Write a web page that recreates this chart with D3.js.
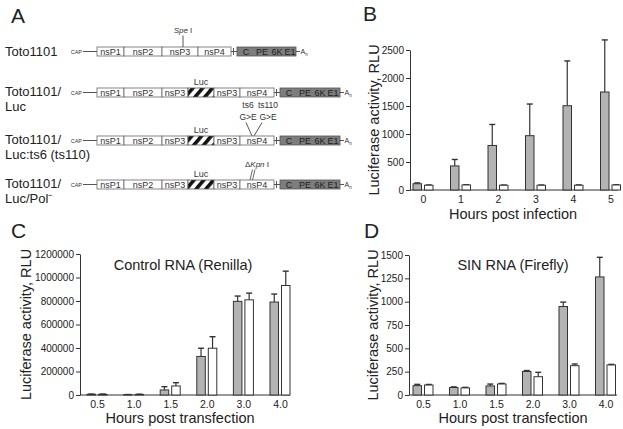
<!DOCTYPE html>
<html><head><meta charset="utf-8">
<script src="https://cdn.jsdelivr.net/npm/d3@7"></script>
<style>
html,body{margin:0;padding:0;background:#fff;}
svg{display:block;font-family:"Liberation Sans",Arial,Helvetica,sans-serif;}
</style></head>
<body><svg id="fig" width="623" height="429"></svg>
<script>
// ---------------- DATA ----------------
const hoursInfection = ["0","1","2","3","4","5"];
const bGray = [112, 430, 795, 970, 1505, 1750];
const bGrayErr = [15, 115, 375, 565, 800, 930];
const bWhite = [85, 90, 85, 85, 85, 90];
const bWhiteErr = [5, 4, 4, 4, 6, 4];
const bTicks = [0, 500, 1000, 1500, 2000, 2500];

const hoursTransfection = ["0.5","1.0","1.5","2.0","3.0","4.0"];
const cGray = [6000, 3000, 43000, 328000, 797000, 791000];
const cGrayErr = [2000, 1000, 28000, 70000, 45000, 68000];
const cWhite = [6000, 5000, 77000, 398000, 810000, 932000];
const cWhiteErr = [2000, 2000, 28000, 98000, 57000, 122000];
const cTicks = [0, 200000, 400000, 600000, 800000, 1000000, 1200000];

const dGray = [100, 80, 97, 252, 948, 1265];
const dGrayErr = [14, 7, 20, 10, 47, 210];
const dWhite = [107, 76, 118, 196, 314, 322];
const dWhiteErr = [6, 6, 6, 47, 18, 6];
const dTicks = [0, 250, 500, 750, 1000, 1250, 1500];

const constructNames = [["Toto1101"], ["Toto1101/", "Luc"], ["Toto1101/", "Luc:ts6 (ts110)"], ["Toto1101/", "Luc/Pol\u207B"]];
const nsLabelsWT = ["nsP1", "nsP2", "nsP3", "nsP4"];
const nsLabelsLuc = ["nsP1", "nsP2", "nsP3", "Luc", "nsP3", "nsP4"];
const structLabels = ["C", "PE", "6K", "E1"];

// ---------------- DRAW ----------------
const svg = d3.select("#fig");
const defs = svg.append("defs");
const pat = defs.append("pattern").attr("id", "hatch").attr("patternUnits", "userSpaceOnUse")
  .attr("width", 7.5).attr("height", 7.5).attr("patternTransform", "rotate(40)");
pat.append("rect").attr("width", 7.5).attr("height", 7.5).attr("fill", "#fff");
pat.append("rect").attr("width", 3.6).attr("height", 7.5).attr("fill", "#111");

const INK = "#333";
const GRAYFILL = "#b3b3b3";

// panel letters
[["A", 11, 23], ["B", 363, 21], ["C", 11, 238], ["D", 364, 238]].forEach(([t, x, y]) =>
  svg.append("text").attr("x", x).attr("y", y).attr("font-size", 21).attr("fill", "#222").text(t));

// ---------- Panel A ----------
const rowTop = [47, 88, 136, 180];
const boxH = 9;
const wtEdges = [97, 124, 162, 198, 231];
const lucEdges = [97, 124, 162, 188, 214, 240, 274];
const gA = svg.append("g");

constructNames.forEach((lines, i) => {
  const t = gA.append("text").attr("x", 5).attr("font-size", 13).attr("fill", "#222");
  const baseY = i === 0 ? rowTop[i] + 9 : rowTop[i] + 8;
  lines.forEach((l, j) => t.append("tspan").attr("x", 5).attr("y", baseY + j * 14.5).text(l));
});

rowTop.forEach((top, i) => {
  const mid = top + boxH / 2;
  const edges = i === 0 ? wtEdges : lucEdges;
  const labels = i === 0 ? nsLabelsWT : nsLabelsLuc;
  const grayX0 = i === 0 ? 237 : 280, grayX1 = i === 0 ? 296 : 340;
  gA.append("text").attr("x", 82).attr("y", mid + 2).attr("text-anchor", "end").attr("font-size", 5.5).attr("fill", "#333").text("CAP");
  gA.append("line").attr("x1", 83).attr("x2", edges[0]).attr("y1", mid).attr("y2", mid).attr("stroke", "#444").attr("stroke-width", 0.9);
  labels.forEach((lab, k) => {
    const x0 = edges[k], x1 = edges[k + 1];
    if (lab === "Luc") {
      gA.append("rect").attr("x", x0).attr("y", top).attr("width", x1 - x0).attr("height", boxH)
        .attr("fill", "url(#hatch)").attr("stroke", "#555").attr("stroke-width", 0.8);
      gA.append("text").attr("x", (x0 + x1) / 2).attr("y", top - 3).attr("text-anchor", "middle").attr("font-size", 9).attr("fill", "#333").text("Luc");
    } else {
      gA.append("rect").attr("x", x0).attr("y", top).attr("width", x1 - x0).attr("height", boxH)
        .attr("fill", "#fff").attr("stroke", "#666").attr("stroke-width", 0.8);
      gA.append("text").attr("x", (x0 + x1) / 2).attr("y", mid + 3.3).attr("text-anchor", "middle").attr("font-size", 9).attr("fill", "#333").text(lab);
    }
  });
  const end = edges[edges.length - 1];
  gA.append("line").attr("x1", end).attr("x2", grayX0).attr("y1", mid).attr("y2", mid).attr("stroke", "#444").attr("stroke-width", 0.9);
  gA.append("line").attr("x1", end + 2.5).attr("x2", end + 2.5).attr("y1", mid - 3.5).attr("y2", mid + 3.5).attr("stroke", "#444").attr("stroke-width", 0.9);
  gA.append("rect").attr("x", grayX0).attr("y", top).attr("width", grayX1 - grayX0).attr("height", boxH)
    .attr("fill", "#7d7d7d").attr("stroke", "#555").attr("stroke-width", 0.8);
  const offs = [9, 25, 40, 53];
  structLabels.forEach((s, k) => gA.append("text").attr("x", grayX0 + offs[k]).attr("y", mid + 3.3)
    .attr("text-anchor", "middle").attr("font-size", 9).attr("fill", "#222").text(s));
  gA.append("line").attr("x1", grayX1).attr("x2", grayX1 + 4).attr("y1", mid).attr("y2", mid).attr("stroke", "#444").attr("stroke-width", 0.9);
  const an = gA.append("text").attr("x", grayX1 + 4.5).attr("y", mid + 2.5).attr("font-size", 7).attr("fill", "#333");
  an.append("tspan").text("A");
  an.append("tspan").attr("font-size", 4.5).attr("dy", 1.5).text("n");
});

const speX = 183;
const spe = gA.append("text").attr("x", speX).attr("y", 33).attr("text-anchor", "middle").attr("font-size", 8).attr("fill", "#333");
spe.append("tspan").attr("font-style", "italic").text("Spe");
spe.append("tspan").text(" I");
gA.append("line").attr("x1", speX).attr("x2", speX).attr("y1", 35.5).attr("y2", rowTop[0]).attr("stroke", "#444").attr("stroke-width", 0.9);

[["ts6", 248], ["ts110", 268]].forEach(([t, cx]) => {
  gA.append("text").attr("x", cx).attr("y", 108).attr("text-anchor", "middle").attr("font-size", 8.5).attr("fill", "#333").text(t);
  gA.append("text").attr("x", cx).attr("y", 120).attr("text-anchor", "middle").attr("font-size", 8.5).attr("fill", "#333").text("G>E");
});
gA.append("line").attr("x1", 246).attr("y1", 122.5).attr("x2", 252).attr("y2", rowTop[2]).attr("stroke", "#444").attr("stroke-width", 0.9);
gA.append("line").attr("x1", 262).attr("y1", 122.5).attr("x2", 254).attr("y2", rowTop[2]).attr("stroke", "#444").attr("stroke-width", 0.9);

const kpn = gA.append("text").attr("x", 257).attr("y", 167).attr("text-anchor", "middle").attr("font-size", 8).attr("fill", "#333");
kpn.append("tspan").text("\u0394");
kpn.append("tspan").attr("font-style", "italic").text("Kpn");
kpn.append("tspan").text(" I");
gA.append("line").attr("x1", 252.5).attr("y1", 169.5).attr("x2", 250).attr("y2", rowTop[3]).attr("stroke", "#444").attr("stroke-width", 0.8);
gA.append("line").attr("x1", 255).attr("y1", 169.5).attr("x2", 252.5).attr("y2", rowTop[3]).attr("stroke", "#444").attr("stroke-width", 0.8);

// ---------- bar chart helper ----------
function barPanel(opt) {
  const g = svg.append("g");
  const x = d3.scalePoint().domain(opt.cats).range(opt.xr);
  const y = d3.scaleLinear().domain([0, opt.ymax]).range(opt.yr);
  const ya = g.append("g").attr("transform", `translate(${opt.axisX},0)`)
    .call(d3.axisLeft(y).tickValues(opt.ticks).tickSize(4).tickSizeOuter(0).tickPadding(2).tickFormat(d3.format("d")));
  ya.select(".domain").attr("stroke", INK);
  ya.selectAll(".tick line").attr("stroke", INK);
  ya.selectAll(".tick text").attr("font-size", 10).attr("fill", "#222").attr("font-family", "Liberation Sans, Arial, sans-serif");
  const xa = g.append("g").attr("transform", `translate(0,${opt.yr[0]})`)
    .call(d3.axisBottom(x).tickSize(0).tickPadding(6));
  xa.select(".domain").attr("d", `M${opt.axisX},0H${opt.axisEnd}`).attr("stroke", INK);
  xa.selectAll(".tick text").attr("font-size", 10.5).attr("fill", "#222").attr("font-family", "Liberation Sans, Arial, sans-serif");
  const series = [
    { vals: opt.gray, errs: opt.grayErr, fill: GRAYFILL, x0: -10, x1: -1.5 },
    { vals: opt.white, errs: opt.whiteErr, fill: "#fff", x0: 1.5, x1: 10 }
  ];
  series.forEach(s => {
    opt.cats.forEach((c, i) => {
      const cx = x(c);
      const bx = cx + s.x0, bw = s.x1 - s.x0, bcx = bx + bw / 2;
      const top = y(s.vals[i]), etop = y(s.vals[i] + s.errs[i]);
      g.append("line").attr("x1", bcx).attr("x2", bcx).attr("y1", top).attr("y2", etop).attr("stroke", INK).attr("stroke-width", 1.2);
      g.append("line").attr("x1", bcx - 3).attr("x2", bcx + 3).attr("y1", etop).attr("y2", etop).attr("stroke", INK).attr("stroke-width", 1.4);
      g.append("rect").attr("x", bx).attr("y", top).attr("width", bw).attr("height", opt.yr[0] - top)
        .attr("fill", s.fill).attr("stroke", INK).attr("stroke-width", 1);
    });
  });
  const ymid = (opt.yr[0] + opt.yr[1]) / 2;
  g.append("text").attr("transform", `translate(${opt.ytitleX},${ymid}) rotate(-90)`).attr("text-anchor", "middle")
    .attr("dy", "0.35em").attr("font-size", 14.5).attr("fill", "#222").text("Luciferase activity, RLU");
  g.append("text").attr("x", opt.xtitleX).attr("y", opt.xtitleY).attr("text-anchor", "middle")
    .attr("font-size", 14.5).attr("fill", "#222").text(opt.xtitle);
  if (opt.title) g.append("text").attr("x", opt.titleX).attr("y", opt.titleY).attr("text-anchor", "middle")
    .attr("font-size", 14.5).attr("fill", "#222").text(opt.title);
}

barPanel({ cats: hoursInfection, xr: [423, 610.5], yr: [190, 50], ymax: 2500, ticks: bTicks,
  axisX: 410, axisEnd: 618, gray: bGray, grayErr: bGrayErr, white: bWhite, whiteErr: bWhiteErr,
  ytitleX: 374, xtitleX: 513, xtitleY: 219, xtitle: "Hours post infection" });

barPanel({ cats: hoursTransfection, xr: [97, 280], yr: [395, 254], ymax: 1200000, ticks: cTicks,
  axisX: 80, axisEnd: 290, gray: cGray, grayErr: cGrayErr, white: cWhite, whiteErr: cWhiteErr,
  ytitleX: 26, xtitleX: 180, xtitleY: 423, xtitle: "Hours post transfection",
  title: "Control RNA (Renilla)", titleX: 183, titleY: 270 });

barPanel({ cats: hoursTransfection, xr: [423, 605.5], yr: [395, 255], ymax: 1500, ticks: dTicks,
  axisX: 409, axisEnd: 617, gray: dGray, grayErr: dGrayErr, white: dWhite, whiteErr: dWhiteErr,
  ytitleX: 373, xtitleX: 513, xtitleY: 423, xtitle: "Hours post transfection",
  title: "SIN RNA (Firefly)", titleX: 513, titleY: 270 });
</script>
</body></html>
